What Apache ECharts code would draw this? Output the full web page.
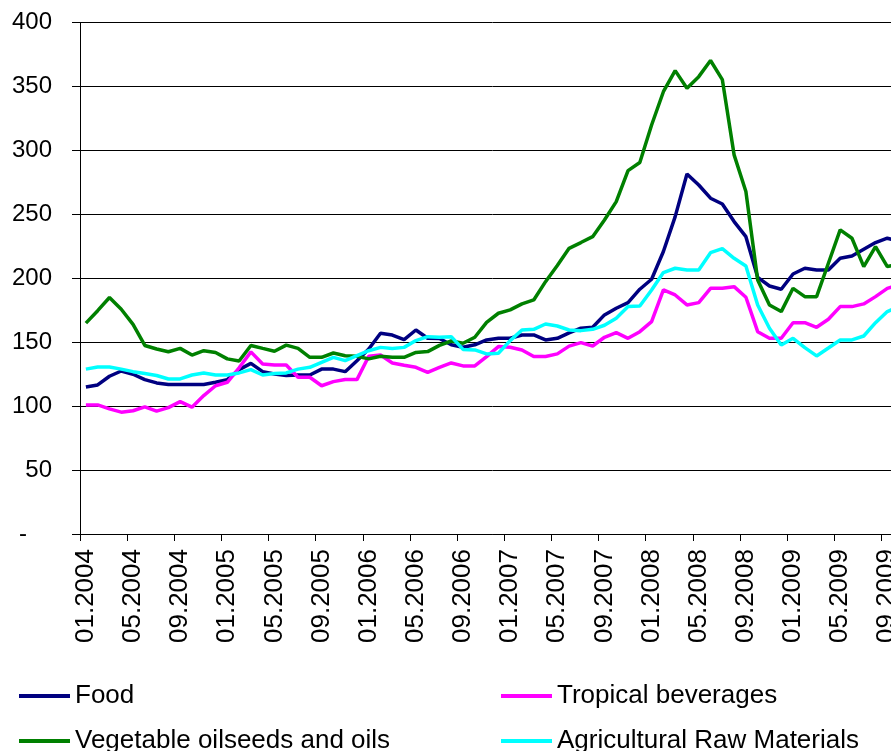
<!DOCTYPE html>
<html>
<head>
<meta charset="utf-8">
<script src="https://cdn.jsdelivr.net/npm/echarts@6/dist/echarts.min.js"></script>
<style>
html,body{margin:0;padding:0;overflow:hidden;background:#fff;width:891px;height:751px;}
#chart{width:905px;height:751px;}
</style>
</head>
<body>
<div id="chart"></div>
<script>
var categories = [
'01.2004','02.2004','03.2004','04.2004','05.2004','06.2004','07.2004','08.2004','09.2004','10.2004','11.2004','12.2004',
'01.2005','02.2005','03.2005','04.2005','05.2005','06.2005','07.2005','08.2005','09.2005','10.2005','11.2005','12.2005',
'01.2006','02.2006','03.2006','04.2006','05.2006','06.2006','07.2006','08.2006','09.2006','10.2006','11.2006','12.2006',
'01.2007','02.2007','03.2007','04.2007','05.2007','06.2007','07.2007','08.2007','09.2007','10.2007','11.2007','12.2007',
'01.2008','02.2008','03.2008','04.2008','05.2008','06.2008','07.2008','08.2008','09.2008','10.2008','11.2008','12.2008',
'01.2009','02.2009','03.2009','04.2009','05.2009','06.2009','07.2009','08.2009','09.2009','10.2009'
];

var food = [
115,116.6,123.4,127.5,125,120.8,118.2,116.9,116.9,117,117,118.7,
120.8,128.6,133.5,127,125.2,124,124.4,124.4,129,129,127,135.6,
144.7,157,155.6,152,159.6,153.1,152.9,148,146.1,148,151.8,153.1,
153.1,155.7,155.7,151.8,153.1,157.3,161,161.7,171.4,176.6,181,191.5,
199.3,221,248.3,281.7,273,262.7,258.2,244.4,232.6,200.8,194,191.5,
203.4,207.9,206.6,206.6,215.7,217.5,222.8,228,231.4,229
];

var tropical = [
101,101,97.9,95.3,96.4,99.5,96.1,98.9,103.6,99.2,108.3,116,
118.7,130,142.5,133,132.2,132.2,122.6,122.6,116,119.2,120.8,120.8,
139,140,133.8,132,130.4,126.5,130.4,133.8,131.5,131.5,138.8,146.6,
146.1,144,138.8,138.8,140.9,147,149.7,147.1,153.9,157.5,153.1,158.3,
166.1,190.9,187,179.2,181,192.2,192.3,193.5,185.2,158.3,153.1,153.1,
165.3,165.3,161.7,168,177.9,177.9,180,185.7,192.2,195
];

var vegetable = [
165,174.7,185,175.8,164,147.5,144.7,142.6,145.2,140,143.4,142,
137,135.3,147.5,145.2,143,147.8,145.2,138.2,138.2,141.6,139.5,139,
137,139,138.2,138.2,142,142.7,147.6,151,149.2,153.9,165.6,172.7,
175.3,180,183.1,197.4,210,223.5,228,232.6,245.7,260,284.3,290.6,
320,346,362.5,348.7,357.8,370.4,355.5,296.6,267.9,198.7,179.2,174,
192.2,185.7,185.7,211.8,237.9,231.4,209.2,224.8,209.2,211
];

var agricultural = [
129,130.6,130.6,129,127,125.5,124,121.3,121.3,124.4,126,124.4,
124.4,126,128.6,124.4,125.5,126,129,130.4,134.3,138.2,135.6,139.5,
143.4,146,145.2,146,151.3,154.4,153.9,154.4,144.4,144,140.9,141.4,
151.3,159.6,160.1,164.3,162.7,159.6,159.1,160.1,163.3,168.8,177.9,178.4,
190.9,204.5,207.9,206.6,206.6,220.1,223.2,215.7,209.7,179.2,161,147.9,
153.1,145.8,139.3,145.5,151.8,151.8,154.9,165.3,174,178
];

var seriesNames = ['Food','Tropical beverages','Vegetable oilseeds and oils','Agricultural Raw Materials'];
var seriesColors = ['#000080','#FF00FF','#008000','#00FFFF'];
var seriesData = [food, tropical, vegetable, agricultural];

var yTicks = { min: 0, max: 400, interval: 50 };

var chart = echarts.init(document.getElementById('chart'), null, {renderer:'canvas'});

var fontFam = '"Liberation Sans", Arial, sans-serif';

var series = seriesNames.map(function(n, k){
  return {
    name: n,
    type: 'line',
    data: seriesData[k],
    symbol: 'none',
    smooth: false,
    lineStyle: { color: seriesColors[k], width: 3.5 },
    itemStyle: { color: seriesColors[k] },
    z: 2 + k
  };
});

// legend slots: [series index, left, top]
var legendSlots = [[0, 19, 683], [1, 501, 683], [2, 19, 728], [3, 501, 728]];
var legends = legendSlots.map(function(s){
  return {
    orient: 'horizontal',
    icon: 'rect',
    itemWidth: 51,
    itemHeight: 4,
    left: s[1],
    top: s[2],
    padding: 0,
    data: [seriesNames[s[0]]],
    textStyle: { fontFamily: fontFam, fontSize: 26, color: '#000' },
    selectedMode: false
  };
});

chart.setOption({
  animation: false,
  backgroundColor: '#fff',
  grid: { left: 80, top: 22.7, right: 0, bottom: 217, containLabel: false },
  legend: legends,
  xAxis: {
    type: 'category',
    data: categories,
    boundaryGap: true,
    axisLine: { show: true, lineStyle: { color: '#000', width: 1 } },
    axisTick: { show: true, interval: 3, length: 7, lineStyle: { color: '#000' } },
    axisLabel: {
      interval: 3, rotate: 90, margin: 15,
      fontFamily: fontFam, fontSize: 26, color: '#000'
    },
    splitLine: { show: false }
  },
  yAxis: {
    type: 'value',
    min: yTicks.min, max: yTicks.max, interval: yTicks.interval,
    axisLine: { show: true, lineStyle: { color: '#000', width: 1 } },
    axisTick: { show: true, length: 8, lineStyle: { color: '#000' } },
    axisLabel: {
      margin: 28, fontFamily: fontFam, fontSize: 24, color: '#000',
      formatter: function(v){ return v === 0 ? '{z|-}' : String(v); },
      rich: { z: { fontFamily: fontFam, fontSize: 24, color: '#000', padding: [0, 25, 0, 0] } }
    },
    splitLine: { show: true, lineStyle: { color: '#000', width: 1 } }
  },
  series: series
});
</script>
</body>
</html>
